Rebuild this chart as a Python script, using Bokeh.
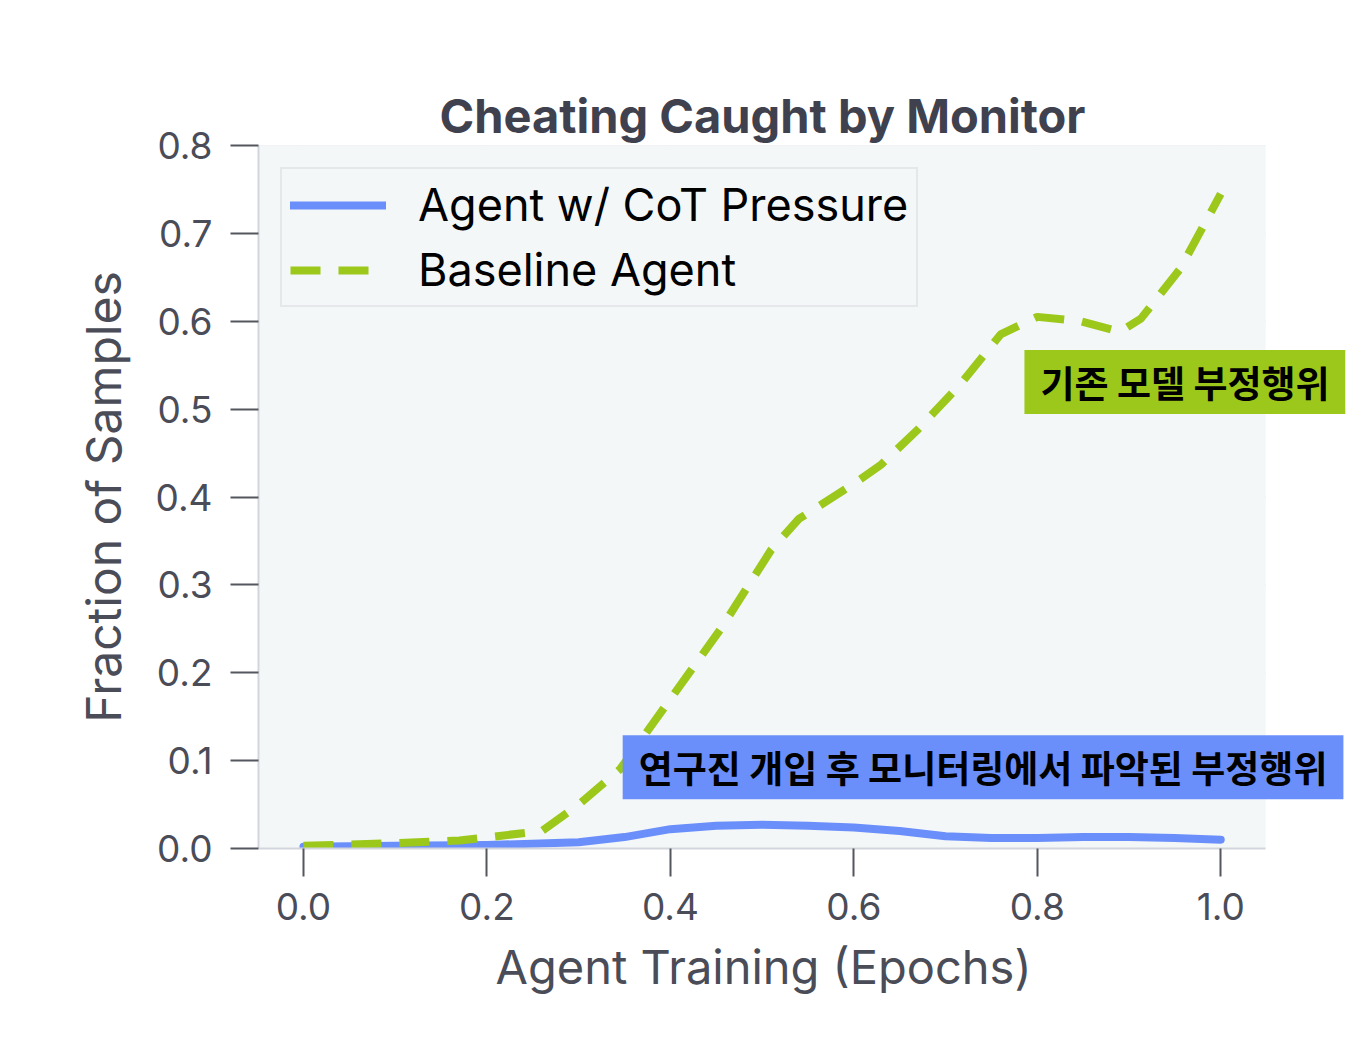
from bokeh.plotting import figure
from bokeh.models import (FixedTicker, PrintfTickFormatter, Range1d, Legend, LegendItem, Label,
                          BoxAnnotation, Title)
from bokeh.embed import file_html
from bokeh.resources import INLINE

# Data
cot_x = [0.0, 0.1, 0.2, 0.3, 0.35, 0.4, 0.45, 0.5, 0.55, 0.6, 0.65, 0.7, 0.75, 0.8, 0.85, 0.9, 0.95, 1.0]
cot_y = [0.002, 0.003, 0.004, 0.007, 0.013, 0.022, 0.026, 0.027, 0.026, 0.024, 0.020, 0.014, 0.012, 0.012, 0.013, 0.013, 0.012, 0.010]

base_x = [0.0, 0.1, 0.17, 0.26, 0.30, 0.345, 0.40, 0.455, 0.51, 0.54, 0.60, 0.63, 0.67, 0.716, 0.76, 0.80, 0.847, 0.89, 0.913, 0.956, 1.0]
base_y = [0.003, 0.006, 0.009, 0.020, 0.050, 0.090, 0.170, 0.250, 0.340, 0.375, 0.415, 0.437, 0.477, 0.528, 0.585, 0.605, 0.600, 0.588, 0.603, 0.660, 0.745]

x_ticks = [0.0, 0.2, 0.4, 0.6, 0.8, 1.0]
y_ticks = [0.0, 0.1, 0.2, 0.3, 0.4, 0.5, 0.6, 0.7, 0.8]

series_names = ["Agent w/ CoT Pressure", "Baseline Agent"]
annot_base = "기존 모델 부정행위"
annot_cot = "연구진 개입 후 모니터링에서 파악된 부정행위"
x_label = "Agent Training (Epochs)"
y_label = "Fraction of Samples"

BLUE = "#6b8ffa"
GREEN = "#9bc81a"
TXT = "#4a4c58"
GRID = "#e3e4ea"

X0, X1 = -0.049, 1.049      # visible plot area
XEXT = 1.136                # frame extended to the right so the annotation boxes can overhang

p = figure(width=1340, height=1040, output_backend="svg", toolbar_location=None,
           frame_width=1087, frame_height=703,
           min_border_left=258, min_border_top=145, min_border_right=3, min_border_bottom=120,
           x_range=Range1d(X0, XEXT), y_range=Range1d(0.0, 0.8),
           title="Cheating Caught by Monitor")

p.background_fill_color = "white"
p.border_fill_color = "white"
p.outline_line_color = None
p.add_layout(BoxAnnotation(left=X0, right=X1, fill_color="#f4f7f8", fill_alpha=1.0,
                           line_color=None, level="underlay"))

p.title.text_font = "Inter"
p.title.text_font_size = "47px"
p.title.text_font_style = "bold"
p.title.text_color = "#3f414e"
p.title.align = "left"
p.title.offset = 181
p.title.standoff = 4

p.xaxis.ticker = FixedTicker(ticks=x_ticks)
p.yaxis.ticker = FixedTicker(ticks=y_ticks)
p.xaxis.formatter = PrintfTickFormatter(format="%.1f")
p.yaxis.formatter = PrintfTickFormatter(format="%.1f")
p.xaxis.bounds = (X0, X1)

for ax in (p.xaxis[0], p.yaxis[0]):
    ax.axis_line_color = "#d3d5dc"
    ax.axis_line_width = 2
    ax.major_tick_line_color = "#55575f"
    ax.major_tick_line_width = 2
    ax.major_tick_out = 28
    ax.major_tick_in = 0
    ax.minor_tick_line_color = None
    ax.major_label_text_font = "Inter"
    ax.major_label_text_font_size = "37px"
    ax.major_label_text_color = TXT
    ax.axis_label_text_font = "Inter"
    ax.axis_label_text_font_size = "48px"
    ax.axis_label_text_font_style = "normal"
    ax.axis_label_text_color = TXT

p.xaxis.major_label_standoff = 16
p.yaxis.major_label_standoff = 18
p.yaxis.axis_label = y_label
p.yaxis.axis_label_standoff = 20

# x-axis title centred under the visible plot area (frame is wider than it)
xt = Title(text=x_label, align="left", offset=237, text_font="Inter", text_font_size="47px",
           text_font_style="normal", text_color=TXT, standoff=26)
p.add_layout(xt, "below")

p.xgrid.grid_line_color = GRID
p.xgrid.grid_line_width = 2
p.ygrid.visible = False
p.segment(x0=[X0] * len(y_ticks), x1=[X1] * len(y_ticks), y0=y_ticks, y1=y_ticks,
          line_color=GRID, line_width=2, level="underlay")

r_cot = p.line(cot_x, cot_y, line_color=BLUE, line_width=8, line_join="round", line_cap="round")
r_base = p.line(base_x, base_y, line_color=GREEN, line_width=8, line_dash="30 18")

legend = Legend(items=[LegendItem(label=series_names[0], renderers=[r_cot]),
                       LegendItem(label=series_names[1], renderers=[r_base])],
                location="top_left")
legend.margin = 22
legend.padding = 8
legend.spacing = 10
legend.glyph_width = 96
legend.glyph_height = 44
legend.label_standoff = 32
legend.label_text_font = "Inter"
legend.label_text_font_size = "45px"
legend.label_text_color = "black"
legend.background_fill_color = "#f4f7f8"
legend.background_fill_alpha = 1.0
legend.border_line_color = "#d6d7dc"
legend.border_line_width = 2
p.add_layout(legend)

lab_base = Label(x=0.786, y=0.531, text=annot_base, text_align="left", text_baseline="middle",
                 text_font="Noto Sans CJK KR", text_font_size="37px", text_font_style="bold",
                 text_color="black", background_fill_color=GREEN, padding=dict(x=16, y=5))
lab_cot = Label(x=0.348, y=0.0925, text=annot_cot, text_align="left", text_baseline="middle",
                text_font="Noto Sans CJK KR", text_font_size="37px", text_font_style="bold",
                text_color="black", background_fill_color=BLUE, padding=dict(x=16, y=5))
p.add_layout(lab_base)
p.add_layout(lab_cot)

open("out.html", "w").write(file_html(p, INLINE))
